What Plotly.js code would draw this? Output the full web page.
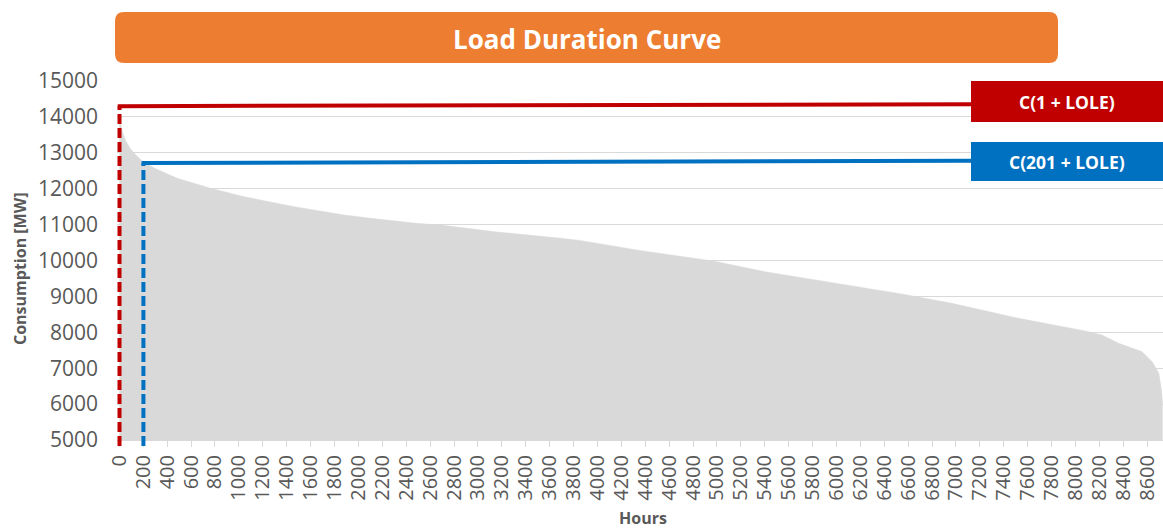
<!DOCTYPE html>
<html>
<head>
<meta charset="utf-8">
<script src="https://cdn.plot.ly/plotly-3.0.1.min.js"></script>
<style>html,body{margin:0;padding:0;background:#fff;}#chart{width:1163px;height:530px;}</style>
</head>
<body>
<div id="chart"></div>
<script>
// ---- data ----
const hours = [0, 10, 25, 50, 90, 140, 201, 300, 484, 763, 1042, 1461, 1880, 2104, 2481, 2705, 3138, 3697, 3850, 4367, 4842, 4979, 5400, 5960, 6546, 6965, 7524, 8082, 8222, 8362, 8558, 8642, 8698, 8720, 8730];
const consumption = [13950, 13800, 13580, 13350, 13120, 12930, 12740, 12560, 12290, 12011, 11778, 11500, 11268, 11175, 11036, 10980, 10802, 10618, 10560, 10273, 10033, 9980, 9688, 9382, 9067, 8808, 8390, 8036, 7925, 7694, 7460, 7181, 6858, 6393, 6000];
const xTickVals = [];
for (let h = 0; h <= 8600; h += 200) xTickVals.push(h);
const yTickVals = [5000, 6000, 7000, 8000, 9000, 10000, 11000, 12000, 13000, 14000, 15000];

const chartTitle = "Load Duration Curve";
const xTitle = "Hours";
const yTitle = "Consumption [MW]";

// reference levels: C(1 + LOLE) and C(201 + LOLE)
const refLabels = ["C(1 + LOLE)", "C(201 + LOLE)"];
const refHours = [1, 201];
const refLevelStart = [14300, 12716];
const refLevelEnd = [14350, 12780];
const refColors = ["#c00000", "#0070c0"];

// ---- layout geometry (pixels) ----
const W = 1163, H = 530;
const L = 117, R = 0, T = 81, B = 90;
const PW = W - L - R, PH = H - T - B;
const xRange = [-20, 8733];
const px2x = px => (px - L) / PW;           // pixel -> paper x
const py2y = py => (H - B - py) / PH;       // pixel -> paper y
const hourAtPx = px => xRange[0] + (px - L) / PW * (xRange[1] - xRange[0]);

function roundRect(x0, y0, x1, y1, r) {
  const X0 = px2x(x0), X1 = px2x(x1), Y0 = py2y(y0), Y1 = py2y(y1);
  const rx = r / PW, ry = r / PH;
  return `M${X0 + rx},${Y0} L${X1 - rx},${Y0} Q${X1},${Y0} ${X1},${Y0 - ry} ` +
         `L${X1},${Y1 + ry} Q${X1},${Y1} ${X1 - rx},${Y1} L${X0 + rx},${Y1} ` +
         `Q${X0},${Y1} ${X0},${Y1 + ry} L${X0},${Y0 - ry} Q${X0},${Y0} ${X0 + rx},${Y0} Z`;
}

const font = "'Open Sans', 'Noto Sans', sans-serif";
const labelBoxLeft = 971;
const shapes = [
  { type: "path", xref: "paper", yref: "paper", path: roundRect(115, 12, 1058, 63, 9),
    fillcolor: "#ed7d31", line: { width: 0 }, layer: "above" }
];
const annotations = [
  { xref: "paper", yref: "paper", x: px2x(587), y: py2y(39), text: "<b>" + chartTitle + "</b>",
    showarrow: false, font: { family: font, size: 26, color: "#ffffff" }, xanchor: "center", yanchor: "middle" },
  { xref: "paper", yref: "paper", x: px2x(20), y: py2y(269), text: "<b>" + yTitle + "</b>", textangle: -90,
    showarrow: false, font: { family: font, size: 16, color: "#595959" }, xanchor: "center", yanchor: "middle" },
  { xref: "paper", yref: "paper", x: px2x(643), y: py2y(518), text: "<b>" + xTitle + "</b>",
    showarrow: false, font: { family: font, size: 16, color: "#595959" }, xanchor: "center", yanchor: "middle" }
];
const boxY = [[81, 122], [142, 181]];
for (let i = 0; i < refLabels.length; i++) {
  const c = refColors[i];
  // dashed vertical line
  shapes.push({ type: "line", xref: "x", yref: "paper", x0: refHours[i], x1: refHours[i],
    y0: py2y(446), y1: (refLevelStart[i] - 5000) / 10000,
    line: { color: c, width: 4, dash: "10px,4px" }, layer: "above" });
  // horizontal line to label box
  shapes.push({ type: "line", xref: "x", yref: "y", x0: refHours[i] - 15, x1: hourAtPx(labelBoxLeft),
    y0: refLevelStart[i], y1: refLevelEnd[i], line: { color: c, width: 4 }, layer: "above" });
  // label box
  shapes.push({ type: "rect", xref: "paper", yref: "paper", x0: px2x(labelBoxLeft), x1: px2x(W),
    y0: py2y(boxY[i][1]), y1: py2y(boxY[i][0]), fillcolor: c, line: { width: 0 }, layer: "above" });
  annotations.push({ xref: "paper", yref: "paper", x: px2x((labelBoxLeft + W) / 2),
    y: py2y((boxY[i][0] + boxY[i][1]) / 2), text: "<b>" + refLabels[i] + "</b>", showarrow: false,
    font: { family: font, size: 17.5, color: "#ffffff" }, xanchor: "center", yanchor: "middle" });
}

const trace = {
  x: hours, y: consumption, type: "scatter", mode: "lines",
  fill: "tozeroy", fillcolor: "#d9d9d9", line: { color: "#d9d9d9", width: 0.5 },
  hoverinfo: "x+y"
};

const layout = {
  width: W, height: H,
  margin: { l: L, r: R, t: T, b: B, pad: 0 },
  paper_bgcolor: "#ffffff", plot_bgcolor: "#ffffff",
  showlegend: false,
  font: { family: font, color: "#595959" },
  xaxis: {
    range: xRange, tickvals: xTickVals, ticktext: xTickVals.map(String), tickangle: -90,
    tickfont: { family: font, size: 20, color: "#595959" },
    ticks: "outside", ticklen: 6, tickcolor: "#d9d9d9", tickwidth: 1,
    showline: true, linecolor: "#d9d9d9", linewidth: 1, showgrid: false, zeroline: false,
    automargin: false
  },
  yaxis: {
    range: [5000, 15000], tickvals: yTickVals, ticktext: yTickVals.map(String),
    tickfont: { family: font, size: 21, color: "#595959" },
    showgrid: true, gridcolor: "#d9d9d9", gridwidth: 1, zeroline: false, showline: false,
    ticks: "", ticklabelstandoff: 18,
    automargin: false
  },
  shapes: shapes,
  annotations: annotations
};

Plotly.newPlot("chart", [trace], layout, { displayModeBar: false, staticPlot: true });
</script>
</body>
</html>
